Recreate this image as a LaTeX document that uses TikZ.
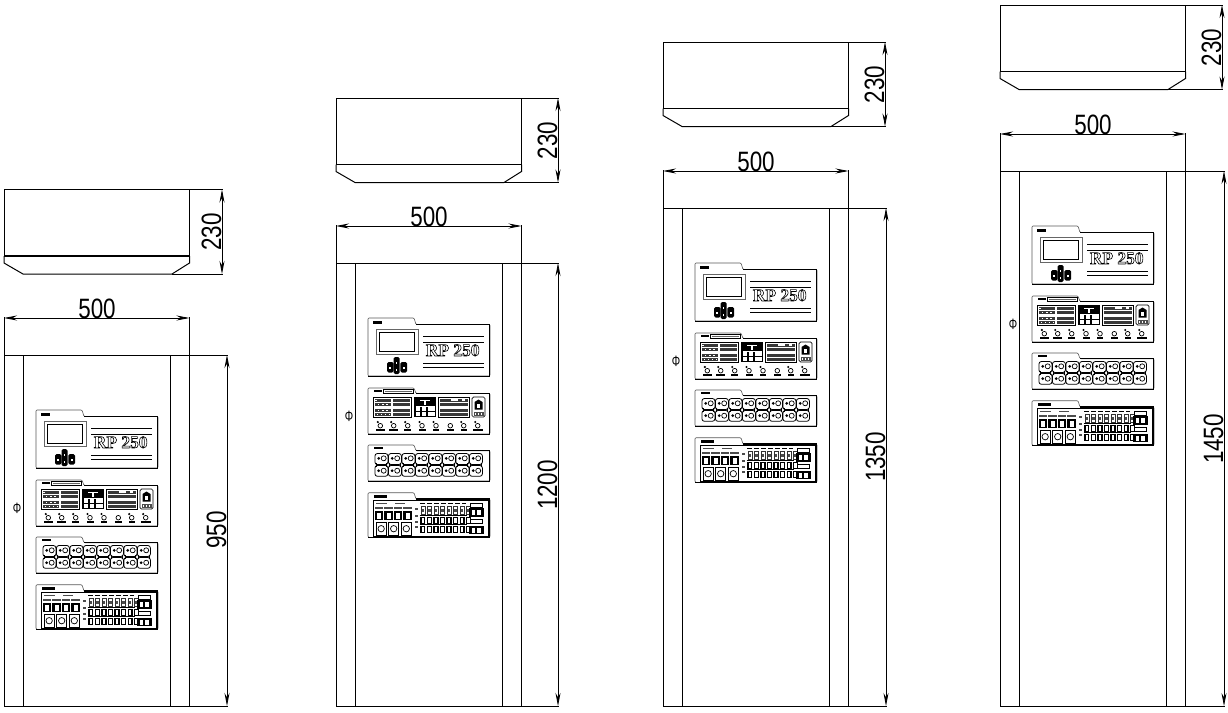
\documentclass[tikz,border=0pt]{standalone}
\usepackage{fontspec}
\usepackage{graphicx}
\setmainfont{Liberation Sans}
\newfontfamily\serifrp{Liberation Serif}
\usetikzlibrary{arrows.meta}
\tikzset{
 ln/.style={line width=1pt,black},
 dim/.style={line width=.8pt,black,{Stealth[length=13pt,width=5pt]}-{Stealth[length=13pt,width=5pt]}},
 dimtxt/.style={font=\fontsize{28}{28}\selectfont,inner sep=0pt},
 pan/.style={line width=.6pt,black!65},
 panshadow/.style={line width=1.2pt,black},
 bar/.style={fill=black,draw=none},
 gbar/.style={fill=black!70,draw=none},
}
\newcommand{\dt}[1]{\scalebox{.8}[1]{#1}}
\newcommand{\hollow}[1]{\special{pdf:code 1 Tr 0.6 w}#1\special{pdf:code 0 Tr 1 w}}
\newcommand{\tabpanel}[3]{% top, main top, bottom in local coordinates
 \draw[pan,rounded corners=1pt] (0,#2) -- (0,#1) -- (46,#1) -- (48,#2) -- (122,#2) -- (122,#3) -- (0,#3) -- cycle;
 \draw[panshadow] (48,#2) -- (121.5,#2) -- (121.5,#3);
 \draw[line width=1pt,black] (0,#3) -- (121.5,#3);
}
\newcommand{\panels}{%
 % ----- Main panel
 \tabpanel{0}{6.5}{58}
 \fill[bar] (5,3.2) rectangle (14,5.8);
 \draw[line width=.5pt,black!60] (8,11.3) rectangle (50,36.7);
 \draw[line width=1pt] (11.3,14.7) rectangle (46.7,33.3);
 \draw[line width=.9pt] (55,18.3) -- (116,18.3);
 \draw[line width=.9pt] (55,24) -- (116,24);
 \draw[line width=.9pt] (55,45.7) -- (116,45.7);
 \draw[line width=.9pt] (55,49.2) -- (116,49.2);
 \node[inner sep=0pt,font=\serifrp\bfseries\fontsize{17.4}{17.4}\selectfont] (rp) at (84.7,32.3) {\hollow{RP 250}};
 \foreach \ba/\bb/\bc/\bd in {25.5/39/31.5/56,19/44/25.5/54.5,32.3/44/39/54.5}{
   \fill[black,rounded corners=1.5pt] (\ba,\bb) rectangle (\bc,\bd);
   \fill[white] ({\ba+2.2},{\bb+5}) rectangle ({\bc-2.2},{\bb+6.5});
   \fill[white] ({\ba+2.2},{\bd-5}) rectangle ({\bc-2.2},{\bd-3.5});
 }
 % ----- Control panel
 \tabpanel{70}{75.5}{116}
 \fill[bar] (5.5,71.8) rectangle (14,74.4);
 \draw[line width=.5pt] (15.7,71.5) rectangle (45,75);
 \fill[black!60] (17,72.6) rectangle (43.5,74);
 \draw[line width=1pt] (5,79) rectangle (43,99);
 \draw[line width=1pt] (70,79) rectangle (101,99);
 \fill[black] (46,79) rectangle (68,99);
 \draw[line width=.7pt,rounded corners=1.5pt] (104,79) rectangle (117,99);
 \foreach \yy in {82,86.7,92,96.7}{
   \fill[black!78] (6.5,\yy-1.5) rectangle (23,\yy+1.5);
   \fill[black!78] (25,\yy-1.5) rectangle (41.5,\yy+1.5);
   \fill[black!78] (71.5,\yy-1.5) rectangle (99.5,\yy+1.5);
 }
 \fill[white] (7,81.5) rectangle (9,82.5);
 \fill[white] (83,81.3) rectangle (90,82.7);
 \fill[white] (94,81.3) rectangle (97,82.7);
 \foreach \wx in {9.5,14,18}{\fill[white] (\wx,86.2) rectangle (\wx+1.5,87.2);}
 \foreach \wx in {9.5,14,18}{\fill[white] (\wx,91.5) rectangle (\wx+1.5,92.5);}
 \foreach \wx in {8.5,13,17,21}{\fill[white] (\wx,96.2) rectangle (\wx+1.2,97.2);}
 \fill[white] (47.5,88) rectangle (66.5,92.5);
 \fill[white] (47.5,93.5) rectangle (66.5,98);
 \fill[white] (52,81.5) rectangle (62,82.5);
 \fill[white] (56,81.5) rectangle (58,86.5);
 \foreach \cx in {52,58}{\fill[black] (\cx,88.5) rectangle (\cx+2,97.5);}
 \fill[bar] (106.5,84) -- (110.5,81.5) -- (114.5,84) -- (114.5,91.5) -- (106.5,91.5) -- cycle;
 \fill[white] (109,85.5) rectangle (112,89.5);
 \fill[black!70] (105.5,93.5) rectangle (115.5,97.5);
 \foreach \wx in {107,110,113}{\fill[white] (\wx,94.5) rectangle (\wx+1,96.5);}
 \foreach \kx/\lw in {12.3/4.5,25.7/4.5,39.7/3.5,54/3.5,68/3,82.3/3.5,95.7/3,109.7/5}{
   \draw[line width=.7pt] (\kx,107.7) circle (2.3);
   \fill[bar] (\kx-\lw,111) rectangle (\kx+\lw,113.2);
 }
 \foreach \kx in {12.3,25.7,39.7,54,68,95.7,109.7}{\fill[black] (\kx-2.5,104) circle (1.2);}
 % ----- Receptacle panel
 \tabpanel{127}{132.7}{163}
 \fill[bar] (5.5,128.6) rectangle (15,131.2);
 \foreach \mi in {0,...,7}{
  \begin{scope}[shift={(\mi*13.5,0)}]
   \draw[line width=.8pt,rounded corners=2.5pt] (6.9,135.5) rectangle (19.9,146.5);
   \draw[line width=.8pt,rounded corners=2.5pt] (6.9,147.5) rectangle (19.9,158.3);
   \draw[line width=.8pt] (8,145) -- (8,149) (18.8,145) -- (18.8,149);
   \foreach \ry in {140.3,152.7}{
     \fill[black] (10.7,\ry) circle (1.5);
     \draw[line width=.7pt] (15.7,\ry) circle (2.5);
   }
  \end{scope}
 }
 % ----- Breaker panel
 \tabpanel{174.7}{181}{219.3}
 \fill[bar] (5.5,176.6) rectangle (19,179.6);
 \draw[line width=.8pt] (5,182.5) rectangle (120.5,218.5);
 \fill[gbar] (7.5,184.6) rectangle (19,186);
 \fill[gbar] (27,184.6) rectangle (37,186);
 \foreach \sa/\sb in {8/14,17.3/24,26.7/33.3,36.3/43.3}{
   \fill[gbar] (\sa-1,189) rectangle (\sb+1,190.6);
   \fill[bar] (\sa-1,192.5) rectangle (\sb+1,202);
   \fill[white] (\sa+1.3,194.5) rectangle (\sb-1.3,200.5);
 }
 \foreach \sa/\sb in {8.3/18,20.7/30.7,33.3/43.3}{
   \draw[line width=.9pt] (\sa,204) rectangle (\sb,217);
   \draw[line width=.7pt] ({(\sa+\sb)/2},210.7) circle (3.2);
   \fill[bar] (\sa,203.5) rectangle (\sa+3,205);
   \fill[bar] (\sb-3,203.5) rectangle (\sb,205);
 }
 \foreach \sy in {191,198,204,209}{\fill[gbar] (47.3,\sy-1) rectangle (50,\sy+1);}
 \draw[line width=1pt,dash pattern=on 5pt off 2pt] (52,185.3) -- (98,185.3);
 \draw[line width=.8pt] (51.5,197) -- (99,197);
 \foreach \ci in {0,...,7}{
  \begin{scope}[shift={(\ci*6.55,0)}]
   \draw[line width=.6pt,black!80] (52.8,188.7) rectangle (56.8,196);
   \fill[gbar] (53.5,191) rectangle (56.1,194);
   \fill[black] (52.2,198.5) rectangle (57.4,205.5);
   \fill[white] (53.6,200) rectangle (56,204.5);
   \fill[black] (52.2,208) rectangle (57.4,214.5);
   \fill[white] (53.6,209.3) rectangle (56,213.5);
  \end{scope}
 }
 \draw[line width=.8pt] (51.5,206.8) -- (99,206.8);
 \foreach \by/\bz in {185.3/190.3,201.3/208}{
   \draw[line width=.7pt] (102.3,\by) rectangle (114,\by+3.6);
   \fill[black] (100.7,\bz) rectangle (115.7,\bz+8.2);
   \fill[white] (103.5,\bz+1.5) rectangle (106.5,\bz+6.5);
   \fill[white] (109,\bz+1.5) rectangle (112.5,\bz+6.5);
 }
}
\begin{document}
\begin{tikzpicture}[x=1pt,y=-1pt]
\useasboundingbox (0,0) rectangle (1228,712);
\fill[white] (0,0) rectangle (1228,712);
\foreach \nm/\X/\T/\B/\Da/\Db/\H/\Hy/\Px/\Py/\Phx/\Phy in {
 a/4/189.5/355/222/227/950/530/36/410/17/508,
 b/336/98/263/558/558/1200/485/368/318/349/416,
 c/663/42/208/885/886/1350/457/695/263/676/361,
 d/1000/5/171/1222/1224/1450/439/1032/226/1013/324}{
  % top view
  \draw[ln] (\X,\T+66.5) -- (\X,\T) -- (\X+185.5,\T) -- (\X+185.5,\T+66.5);
  \draw[line width=1.9pt] (\X,\T+66.5) -- (\X+185.5,\T+66.5);
  \draw[ln] (\X,\T+66.5) -- (\X,\T+73.5) -- (\X+19,\T+84.5) -- (\X+168,\T+84.5) -- (\X+185.5,\T+73.5) -- (\X+185.5,\T+66.5);
  \draw[line width=.7pt] (\X+185.5,\T) -- (\Da+1,\T);
  \draw[line width=.7pt] (\X+168,\T+84.5) -- (\Da+1,\T+84.5);
  \draw[dim] (\Da,\T) -- (\Da,\T+84.5);
  \node[dimtxt,rotate=90] (h230\nm) at (\Da-10.5,\T+42.5) {\dt{230}};
  % width dimension
  \draw[line width=.7pt] (\X,\B) -- (\X,\B-38);
  \draw[line width=.7pt] (\X+185.5,\B) -- (\X+185.5,\B-38);
  \draw[dim] (\X,\B-37) -- (\X+185.5,\B-37);
  \node[dimtxt] (w\nm) at (\X+93,\B-46) {\dt{500}};
  % body
  \draw[ln] (\X,706) -- (\X,\B) -- (\X+185.5,\B) -- (\X+185.5,706) -- cycle;
  \draw[ln] (\X+19,\B) -- (\X+19,706);
  \draw[ln] (\X+166.5,\B) -- (\X+166.5,706);
  \draw[line width=.7pt] (\X+185.5,\B) -- (\Db+1,\B);
  \draw[line width=.7pt] (\X+185.5,706) -- (\Db+1,706);
  \draw[dim] (\Db,\B) -- (\Db,706);
  \node[dimtxt,rotate=90] (h\nm) at (\Db-10.5,\Hy) {\dt{\H}};
  \node[inner sep=0pt,font=\fontsize{15}{15}\selectfont] (phi\nm) at (\Phx,\Phy) {\scalebox{.7}[1]{Φ}};
  \begin{scope}[shift={(\Px,\Py)}]
    \panels
  \end{scope}
}
\end{tikzpicture}
\end{document}
